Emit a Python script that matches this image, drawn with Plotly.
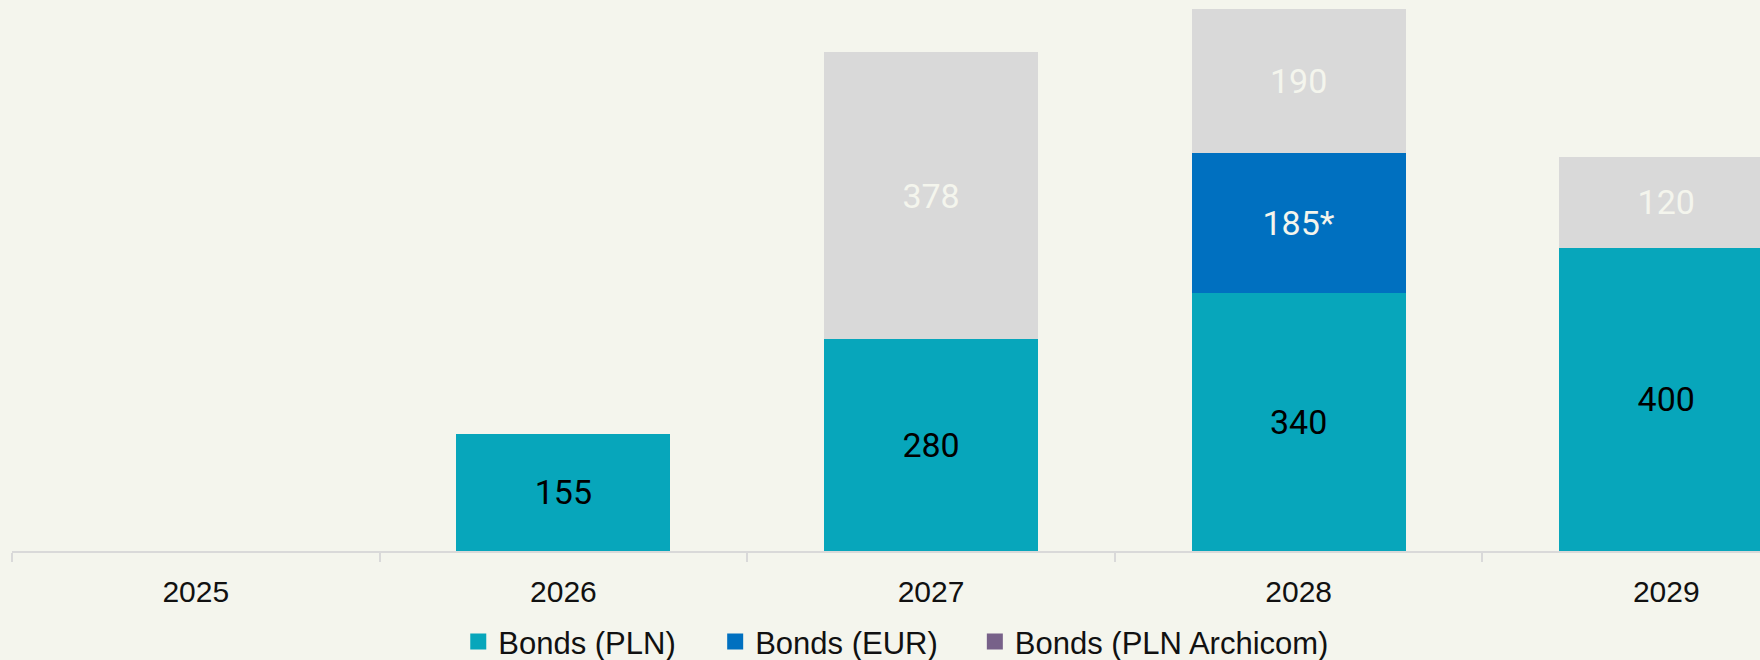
import plotly.graph_objects as go

years = ["2025", "2026", "2027", "2028", "2029"]
bonds_pln = [None, 155, 280, 340, 400]
bonds_eur = [None, None, None, 185, None]
bonds_archicom = [None, None, None, None, None]
other = [None, None, 378, 190, 120]
eur_labels = ["", "", "", "185*", ""]
legend_names = ["Bonds (PLN)", "Bonds (EUR)", "Bonds (PLN Archicom)"]

BG = "#f4f5ed"
TEAL = "#07a6bb"
BLUE = "#0070c0"
PURPLE = "#776189"
GREY = "#d9d9d9"

label_font = dict(family="Roboto", size=34)

fig = go.Figure()
fig.add_trace(go.Bar(x=years, y=bonds_pln, name=legend_names[0], marker=dict(color=TEAL, line=dict(width=0)),
                     text=[("" if v is None else str(v)) for v in bonds_pln], textposition="inside",
                     insidetextanchor="middle", textangle=0,
                     textfont=dict(color="#000000", **label_font), showlegend=False))
fig.add_trace(go.Bar(x=years, y=bonds_eur, name=legend_names[1], marker=dict(color=BLUE, line=dict(width=0)),
                     text=eur_labels, textposition="inside", insidetextanchor="middle", textangle=0,
                     textfont=dict(color="#f4f5ed", **label_font), showlegend=False))
fig.add_trace(go.Bar(x=years, y=bonds_archicom, name=legend_names[2],
                     marker=dict(color=PURPLE, line=dict(width=0)), showlegend=False))
fig.add_trace(go.Bar(x=years, y=other, name="Other", marker=dict(color=GREY, line=dict(width=0)),
                     text=[("" if v is None else str(v)) for v in other], textposition="inside",
                     insidetextanchor="middle", textangle=0,
                     textfont=dict(color="#f4f5ed", **label_font), showlegend=False))

# legend entries
pads = ["\u00a0" * 4, "\u00a0" * 3 + "\u2009", ""]
for nm, col, pad in zip(legend_names, [TEAL, BLUE, PURPLE], pads):
    fig.add_trace(go.Scatter(x=[None], y=[None], mode="markers", name=nm + pad,
                             marker=dict(symbol="square", size=17, color=col, line=dict(width=0))))

fig.update_layout(
    width=1760, height=660,
    barmode="stack", bargap=0.418,
    paper_bgcolor=BG, plot_bgcolor=BG,
    margin=dict(l=12, r=0, t=0, b=109, autoexpand=False),
    showlegend=True,
    legend=dict(orientation="h", x=0.2553, xanchor="left", y=-0.165, yanchor="middle",
                font=dict(family="Liberation Sans, Arial", size=31, color="#111111"),
                traceorder="normal", bgcolor="rgba(0,0,0,0)"),
    xaxis=dict(type="category", range=[-0.5, 4.255], showline=True, linecolor=GREY, linewidth=2,
               ticks="outside", tickson="boundaries", ticklen=9, tickwidth=2, tickcolor=GREY,
               ticklabelstandoff=13, automargin=False,
               showgrid=False, zeroline=False,
               tickfont=dict(family="Liberation Sans, Arial", size=30, color="#111111")),
    yaxis=dict(range=[0, 727], visible=False, showgrid=False, zeroline=False, automargin=False),
)

fig.write_html("out.html", config={"displayModeBar": False},
               post_script="document.body.style.margin='0';document.body.style.overflow='hidden';")
